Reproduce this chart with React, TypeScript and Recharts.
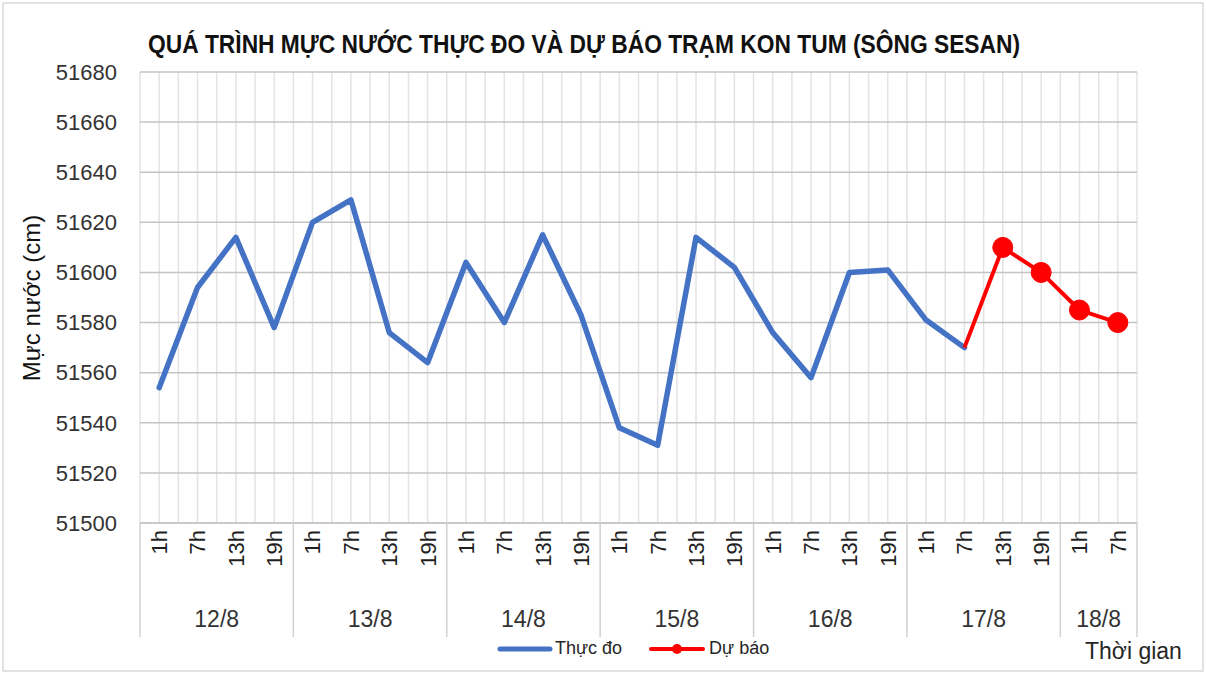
import React from 'react';
import { LineChart, Line, XAxis, YAxis, CartesianGrid } from 'recharts';

const hours = ['1h','7h','13h','19h','1h','7h','13h','19h','1h','7h','13h','19h','1h','7h','13h','19h','1h','7h','13h','19h','1h','7h','13h','19h','1h','7h'];
const days = ['12/8','13/8','14/8','15/8','16/8','17/8','18/8'];
const daySizes = [4,4,4,4,4,4,2];
const measured = [51554,51594,51614,51578,51620,51629,51576,51564,51604,51580,51615,51583,51538,51531,51614,51602,51576,51558,51600,51601,51581,51570];
const forecastStart = 21;
const forecast = [51570,51610,51600,51585,51580];
const yTicks = [51500,51520,51540,51560,51580,51600,51620,51640,51660,51680];
const seriesNames = ['Thực đo', 'Dự báo'];

const W = 1206;
const H = 673;
const PLOT_LEFT = 140;
const PLOT_RIGHT = 1137;
const PLOT_TOP = 72;
const PLOT_BOTTOM = 523;
const FONT = '"Liberation Sans", Arial, sans-serif';

const data = hours.map((h, i) => ({
  key: 'c' + i,
  hour: h,
  actual: i < measured.length ? measured[i] : null,
  forecast: i >= forecastStart ? forecast[i - forecastStart] : null,
}));

const groupOf: { g: number; l: number }[] = [];
daySizes.forEach((s, g) => { for (let l = 0; l < s; l++) groupOf.push({ g, l }); });

const BAND = (PLOT_RIGHT - PLOT_LEFT) / hours.length;

const HourTick = (props: any) => {
  const { x, y, payload, index } = props;
  const i = typeof index === 'number' ? index : payload.index;
  const band = payload && payload.offset ? payload.offset * 2 : BAND;
  const info = groupOf[i];
  const els: any[] = [];
  els.push(
    <text key="t" x={x} y={y + 7} transform={`rotate(-90, ${x}, ${y + 7})`} textAnchor="end" dy="0.36em"
      fontFamily={FONT} fontSize={22} fill="#1f1f1f">{hours[i]}</text>
  );
  if (info && info.l === 0) {
    const left = x - band / 2;
    els.push(<line key="s" x1={left} x2={left} y1={y} y2={y + 114} stroke="#d0d0d0" strokeWidth={1.5} />);
    const cx = left + (daySizes[info.g] * band) / 2;
    els.push(
      <text key="d" x={cx} y={y + 104} textAnchor="middle" fontFamily={FONT} fontSize={23} fill="#333">{days[info.g]}</text>
    );
  }
  if (i === hours.length - 1) {
    const right = x + band / 2;
    els.push(<line key="e" x1={right} x2={right} y1={y} y2={y + 114} stroke="#d0d0d0" strokeWidth={1.5} />);
  }
  return <g>{els}</g>;
};

const ForecastDot = (props: any) => {
  const { cx, cy, index, value } = props;
  if (index === forecastStart || value == null || cx == null) return <g key={'fd' + index} />;
  return <circle key={'fd' + index} cx={cx} cy={cy} r={10} fill="#FF0000" stroke="#FF0000" strokeWidth={1} />;
};

const vGen = (p: any) => {
  const off = p && p.offset ? p.offset : { left: PLOT_LEFT, width: PLOT_RIGHT - PLOT_LEFT };
  const n = hours.length * 2;
  const pts: number[] = [];
  for (let k = 0; k <= n; k++) pts.push(off.left + (k * off.width) / n);
  return pts;
};

export default function App() {
  return (
    <div style={{ position: 'absolute', left: 0, top: 0, width: W, height: H, background: '#ffffff' }}>
      <LineChart
        width={W}
        height={H}
        data={data}
        margin={{ top: PLOT_TOP, right: W - PLOT_RIGHT, bottom: H - PLOT_BOTTOM - 120, left: 0 }}
      >
        <CartesianGrid stroke="#e3e3e3" strokeWidth={1.5} horizontal={false} verticalCoordinatesGenerator={vGen} />
        <CartesianGrid stroke="#c4c4c4" strokeWidth={1.5} vertical={false} />
        <XAxis
          dataKey="key"
          scale="band"
          interval={0}
          height={120}
          tickSize={0}
          tickMargin={0}
          tickLine={false}
          axisLine={{ stroke: '#c8c8c8', strokeWidth: 2 }}
          tick={<HourTick />}
        />
        <YAxis
          width={PLOT_LEFT}
          domain={[51500, 51680]}
          ticks={yTicks}
          interval={0}
          tickSize={0}
          tickMargin={23}
          tickLine={false}
          axisLine={false}
          tick={{ fontFamily: FONT, fontSize: 22, fill: '#333' }}
        />
        <Line
          type="linear"
          dataKey="actual"
          name={seriesNames[0]}
          stroke="#4472C4"
          strokeWidth={5.5}
          dot={false}
          activeDot={false}
          connectNulls={false}
          isAnimationActive={false}
          strokeLinejoin="round"
          strokeLinecap="round"
        />
        <Line
          type="linear"
          dataKey="forecast"
          name={seriesNames[1]}
          stroke="#FF0000"
          strokeWidth={4}
          dot={<ForecastDot />}
          activeDot={false}
          isAnimationActive={false}
          strokeLinejoin="round"
        />
      </LineChart>
      <div style={{ position: 'absolute', left: 497, top: 638, display: 'flex', alignItems: 'center', fontFamily: FONT, fontSize: 18, color: '#262626' }}>
        <svg width={56} height={14}><line x1={3} x2={53} y1={7} y2={7} stroke="#4472C4" strokeWidth={5} strokeLinecap="round" /></svg>
        <span style={{ marginLeft: 2, marginRight: 26 }}>{seriesNames[0]}</span>
        <svg width={58} height={14}><line x1={3} x2={55} y1={7} y2={7} stroke="#FF0000" strokeWidth={4} strokeLinecap="round" /><circle cx={29} cy={7} r={5} fill="#FF0000" /></svg>
        <span style={{ marginLeft: 3 }}>{seriesNames[1]}</span>
      </div>
      <svg width={W} height={H} style={{ position: 'absolute', left: 0, top: 0, pointerEvents: 'none' }}>
        <rect x={3} y={3} width={W - 6} height={H - 5} fill="none" stroke="#d9d9d9" strokeWidth={1.5} />
        <text x={148} y={53} fontFamily={FONT} fontWeight="bold" fontSize={25} fill="#111" textLength={872} lengthAdjust="spacingAndGlyphs">
          QUÁ TRÌNH MỰC NƯỚC THỰC ĐO VÀ DỰ BÁO TRẠM KON TUM (SÔNG SESAN)
        </text>
        <text x={40} y={298} transform="rotate(-90, 40, 298)" textAnchor="middle" fontFamily={FONT} fontSize={24} fill="#111">
          Mực nước (cm)
        </text>
        <text x={1085} y={659} fontFamily={FONT} fontSize={23} fill="#262626">Thời gian</text>
      </svg>
    </div>
  );
}
